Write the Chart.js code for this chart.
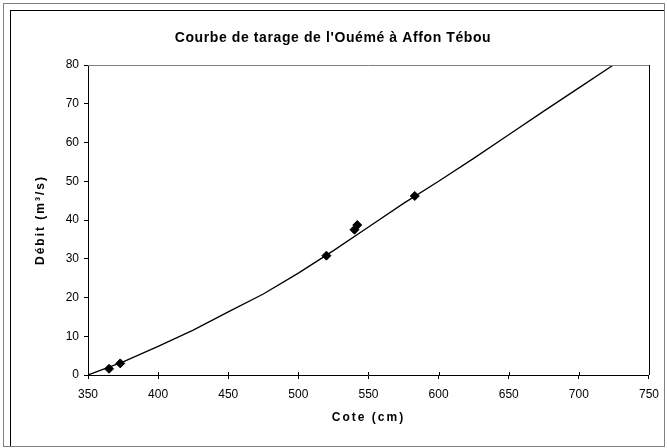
<!DOCTYPE html>
<html>
<head>
<meta charset="utf-8">
<script src="https://cdn.jsdelivr.net/npm/chart.js@4"></script>
<style>
  html, body { margin: 0; padding: 0; background: #fff; }
  #wrap { position: relative; width: 667px; height: 448px; }
  #outer { position: absolute; left: 3px; top: 3px; width: 660px; height: 442px; border: 1px solid #808080; }
  #inner { position: absolute; left: 10px; top: 10px; width: 653px; height: 435px; border-left: 1px solid #000; border-top: 1px solid #000; }
  canvas { position: absolute; left: 0; top: 0; }
</style>
</head>
<body>
<div id="wrap">
  <div id="outer"></div>
  <div id="inner"></div>
  <canvas id="chart" width="667" height="448"></canvas>
</div>
<script>
// Jaugeages (cote en cm, débit en m3/s)
const gaugeCote = [365, 373, 520, 540, 542, 583];
const gaugeDebit = [1.6, 3.0, 30.8, 37.5, 38.7, 46.2];

// Courbe de tarage
const curveCote = [350, 375, 400, 425, 450, 475, 500, 525, 550, 575, 600, 625, 650, 675, 700, 724.6];
const curveDebit = [0, 3.4, 7.4, 11.6, 16.3, 20.9, 26.3, 32.1, 38.2, 44.3, 50.0, 55.9, 62.0, 68.1, 74.1, 80];

const xTicks = [350, 400, 450, 500, 550, 600, 650, 700, 750];
const yTicks = [0, 10, 20, 30, 40, 50, 60, 70, 80];

const FONT = "'Liberation Sans', Arial, sans-serif";

// wide letter spacing for the titles
function spaced(obj, fn, ls) {
  if (!obj || obj['_sp_' + fn]) return;
  const orig = obj[fn];
  obj[fn] = function (...args) {
    const c = this.ctx;
    c.save();
    c.letterSpacing = ls;
    const r = orig.apply(this, args);
    c.restore();
    return r;
  };
  obj['_sp_' + fn] = true;
}

const spacing = {
  id: 'spacing',
  beforeDraw(chart) {
    spaced(chart.titleBlock, 'draw', '0.6px');
    spaced(chart.scales.x, 'drawTitle', '2px');
    spaced(chart.scales.y, 'drawTitle', '2px');
  }
};

// plot frame + ticks crossing the x axis
const frame = {
  id: 'frame',
  afterDraw(chart) {
    const { ctx, chartArea: a, scales } = chart;
    ctx.save();
    ctx.lineWidth = 1;
    ctx.strokeStyle = '#808080';
    ctx.beginPath();
    ctx.moveTo(a.left, a.top + 0.5);
    ctx.lineTo(a.right, a.top + 0.5);
    ctx.stroke();
    ctx.strokeStyle = '#000';
    ctx.beginPath();
    ctx.moveTo(Math.round(a.right) + 0.5, a.top);
    ctx.lineTo(Math.round(a.right) + 0.5, a.bottom);
    ctx.stroke();
    ctx.beginPath();
    xTicks.forEach(v => {
      const x = Math.round(scales.x.getPixelForValue(v)) + 0.5;
      ctx.moveTo(x, a.bottom - 3);
      ctx.lineTo(x, a.bottom);
    });
    ctx.stroke();
    ctx.restore();
  }
};

new Chart(document.getElementById('chart'), {
  type: 'scatter',
  data: {
    datasets: [
      {
        label: 'Courbe',
        data: curveCote.map((x, i) => ({ x, y: curveDebit[i] })),
        showLine: true,
        borderColor: '#000',
        borderWidth: 1.3,
        pointRadius: 0,
        tension: 0,
        order: 2
      },
      {
        label: 'Jaugeages',
        data: gaugeCote.map((x, i) => ({ x, y: gaugeDebit[i] })),
        pointStyle: 'rectRot',
        pointRadius: 4.5,
        backgroundColor: '#000',
        borderColor: '#000',
        order: 1
      }
    ]
  },
  options: {
    responsive: false,
    animation: false,
    layout: { padding: { top: 30, left: 10, right: 11, bottom: 0 } },
    plugins: {
      legend: { display: false },
      tooltip: { enabled: false },
      title: {
        display: true,
        text: "Courbe de tarage de l'Ouémé à Affon Tébou",
        color: '#000',
        font: { family: FONT, size: 14, weight: 'bold', lineHeight: 1.2 },
        padding: { top: 0, bottom: 18.2 }
      }
    },
    scales: {
      x: {
        type: 'linear',
        min: 350,
        max: 750,
        afterBuildTicks: s => { s.ticks = xTicks.map(value => ({ value })); },
        afterFit: s => { s.height = 73; },
        border: { color: '#000', width: 1 },
        grid: { drawOnChartArea: false, color: '#000', tickLength: 4 },
        ticks: { color: '#000', padding: 8, maxRotation: 0, font: { family: FONT, size: 12 } },
        title: {
          display: true,
          text: 'Cote (cm)',
          color: '#000',
          font: { family: FONT, size: 12, weight: 'bold', lineHeight: 1.2 },
          padding: { top: 23, bottom: 23 }
        }
      },
      y: {
        type: 'linear',
        min: 0,
        max: 80,
        afterBuildTicks: s => { s.ticks = yTicks.map(value => ({ value })); },
        afterFit: s => { s.width = 78; },
        border: { color: '#000', width: 1 },
        grid: { drawOnChartArea: false, color: '#000', tickLength: 4 },
        ticks: { color: '#000', padding: 5, font: { family: FONT, size: 12 } },
        title: {
          display: true,
          text: 'Débit (m³/s)',
          color: '#000',
          font: { family: FONT, size: 12, weight: 'bold', lineHeight: 1.2 },
          padding: { top: 23, bottom: 23 }
        }
      }
    }
  },
  plugins: [spacing, frame]
});
</script>
</body>
</html>
